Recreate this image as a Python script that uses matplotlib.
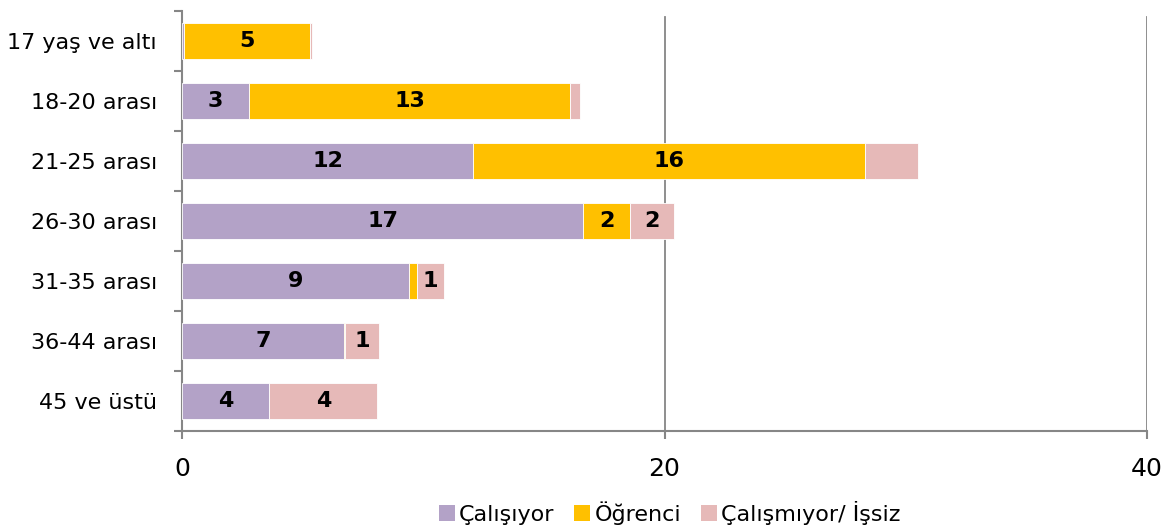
import matplotlib
matplotlib.use("Agg")
import matplotlib.pyplot as plt
from matplotlib.patches import Patch
import numpy as np

categories = ["17 yaş ve altı", "18-20 arası", "21-25 arası", "26-30 arası",
              "31-35 arası", "36-44 arası", "45 ve üstü"]
calisiyor = [0.1, 2.78, 12.07, 16.63, 9.42, 6.70, 3.62]
ogrenci = [5.2, 13.30, 16.25, 1.93, 0.33, 0.07, 0.0]
issiz = [0.07, 0.41, 2.20, 1.83, 1.12, 1.41, 4.47]
lab_cal = ["", "3", "12", "17", "9", "7", "4"]
lab_ogr = ["5", "13", "16", "2", "", "", ""]
lab_iss = ["", "", "", "2", "1", "1", "4"]
series_names = ["Çalışıyor", "Öğrenci", "Çalışmıyor/ İşsiz"]
xticks = [0, 20, 40]

colors = ["#B3A2C7", "#FFC000", "#E6B9B8"]
fam = ["DejaVu Sans"]

fig = plt.figure(figsize=(11.71, 5.30), dpi=100)
ax = fig.add_axes([182/1171, 1-431/530, (1147-182)/1171, 420/530])

y = np.arange(len(categories))
left = np.zeros(len(categories))
for vals, labs, c in zip([calisiyor, ogrenci, issiz], [lab_cal, lab_ogr, lab_iss], colors):
    vals = np.array(vals)
    bars = ax.barh(y, vals, left=left, height=0.6, color=c, edgecolor="white", linewidth=0.6, zorder=3)
    for b, l in zip(bars, labs):
        if l:
            ax.text(b.get_x() + b.get_width()/2, b.get_y() + b.get_height()/2, l,
                    ha="center", va="center", fontsize=16, fontweight="bold",
                    family="DejaVu Sans", color="black", zorder=4)
    left += vals

ax.set_xlim(0, 40)
ax.set_ylim(len(categories) - 0.5, -0.5)
ax.set_xticks(xticks)
ax.set_xticklabels([str(t) for t in xticks], fontsize=18, family=fam)
ax.set_yticks(y)
ax.set_yticklabels(categories, fontsize=16, family=fam)
ax.set_yticks(np.arange(-0.5, len(categories)), minor=True)
ax.tick_params(axis="y", which="major", length=0, pad=18)
ax.tick_params(axis="y", which="minor", length=6, color="#868686", width=1.5)
ax.tick_params(axis="x", length=6, color="#868686", width=1.5, pad=13)
for x in [20, 40]:
    ax.plot([x, x], [len(categories) - 0.5, -0.4], color="#868686", lw=1.3, zorder=1)
for s in ["top", "right"]:
    ax.spines[s].set_visible(False)
for s in ["left", "bottom"]:
    ax.spines[s].set_color("#868686")
    ax.spines[s].set_linewidth(1.5)

handles = [Patch(facecolor=c, edgecolor="none") for c in colors]
fig.legend(handles, series_names, loc="center", bbox_to_anchor=(0.572, 0.032), ncol=3,
           frameon=False, prop={"family": fam, "size": 16}, handlelength=0.7, handleheight=0.7,
           handletextpad=0.2, columnspacing=0.9)

fig.savefig("out.png", dpi=100)
